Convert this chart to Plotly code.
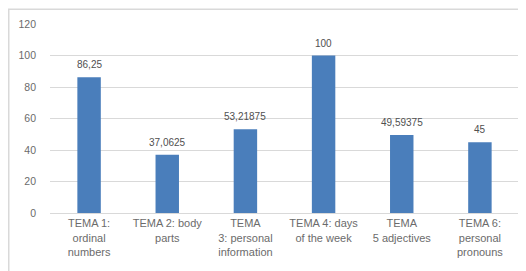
import plotly.graph_objects as go

categories = [
    "TEMA 1:<br>ordinal<br>numbers",
    "TEMA 2: body<br>parts",
    "TEMA<br>3: personal<br>information",
    "TEMA 4: days<br>of the week",
    "TEMA<br>5 adjectives",
    "TEMA 6:<br>personal<br>pronouns",
]
values = [86.25, 37.0625, 53.21875, 100, 49.59375, 45]
value_labels = ["86,25", "37,0625", "53,21875", "100", "49,59375", "45"]
y_ticks = [0, 20, 40, 60, 80, 100, 120]

W, H = 526, 271
L, R, T, B = 42, 15, 15.5, 65.5

fig = go.Figure(go.Bar(
    x=categories,
    y=values,
    marker=dict(color="#4a7ebb", line=dict(width=0)),
    hoverinfo="x+y",
))

for c, v, t in zip(categories, values, value_labels):
    fig.add_annotation(
        x=c, y=v, text=t, showarrow=False, yanchor="bottom", yshift=5,
        font=dict(family="Liberation Sans, Arial", size=10, color="#505050"),
    )

pw = W - L - R
ph = H - T - B
fig.add_shape(
    type="rect", xref="paper", yref="paper",
    x0=(0.75 - L) / pw, x1=(W + 20 - L) / pw,
    y0=-(H + 20 - (H - B)) / ph, y1=((H - B) - 0.75) / ph,
    line=dict(color="#d9d9d9", width=1.5), fillcolor="rgba(0,0,0,0)", layer="below",
)

fig.update_layout(
    width=W, height=H,
    margin=dict(l=L, r=R, t=T, b=B, autoexpand=False),
    paper_bgcolor="white", plot_bgcolor="white",
    bargap=0.7,
    showlegend=False,
    font=dict(family="Liberation Sans, Arial", size=10.5, color="#595959"),
)
fig.update_xaxes(
    showgrid=False, showline=True, linecolor="#d9d9d9", linewidth=1,
    ticks="", tickfont=dict(size=11, color="#6b6b6b"), tickangle=0,
    automargin=False,
)
fig.update_yaxes(
    range=[0, 120], tickvals=y_ticks, showgrid=True, gridcolor="#d9d9d9",
    gridwidth=1, zeroline=False, showline=False, ticks="",
    tickfont=dict(size=10.5, color="#6b6b6b"), ticklabelstandoff=13,
    automargin=False,
)

fig.write_html("out.html")
